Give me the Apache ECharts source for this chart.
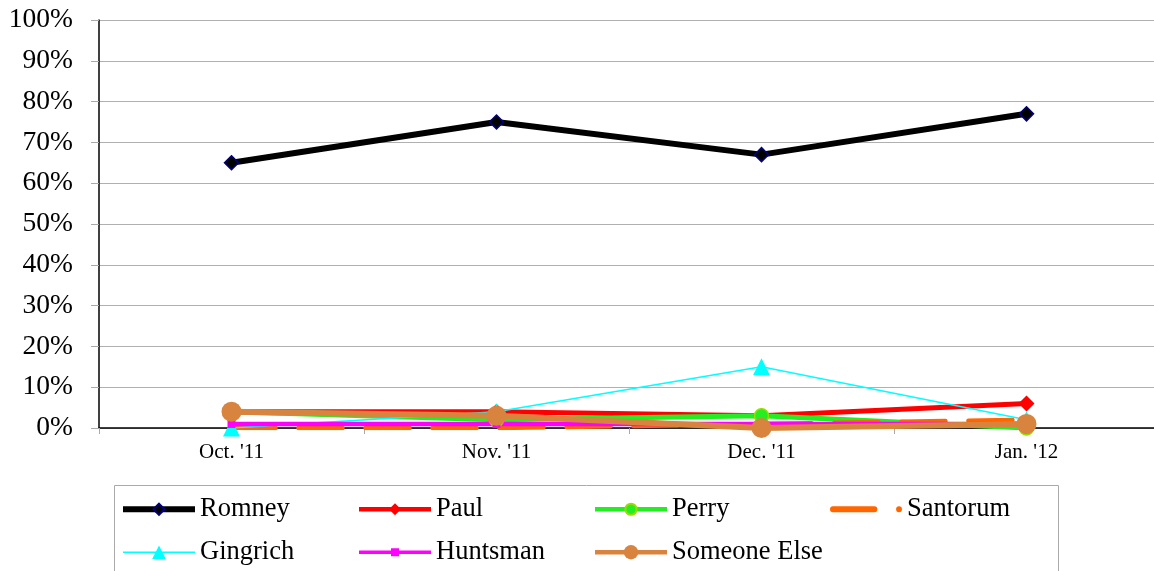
<!DOCTYPE html>
<html>
<head>
<meta charset="utf-8">
<script src="https://cdn.jsdelivr.net/npm/echarts@6/dist/echarts.min.js"></script>
<style>
  html, body { margin: 0; padding: 0; background: #fff; }
  #chart { width: 1154px; height: 571px; }
</style>
</head>
<body>
<div id="chart"></div>
<script>
// Monthly support (%) per candidate
const months = ["Oct. '11", "Nov. '11", "Dec. '11", "Jan. '12"];
const romney = [65, 75, 67, 77];
const paul = [4, 4, 3, 6];
const perry = [4, 2, 3, 0];
const santorum = [0, 0, 1, 2];
const gingrich = [0, 4, 15, 2];
const huntsman = [1, 1, 1, 1];
const someoneElse = [4, 3, 0, 1];
const yTicks = [0, 10, 20, 30, 40, 50, 60, 70, 80, 90, 100];

const FONT = "'Liberation Serif', 'Times New Roman', serif";

const series = [
  { name: 'Romney', data: romney, color: '#000000', width: 6, symbol: 'diamond', size: 14,
    legendWidth: 6, legendH: 14,
    itemStyle: { color: '#000000', borderColor: '#000080', borderWidth: 1.5 } },
  { name: 'Paul', data: paul, color: '#ff0000', width: 5, symbol: 'diamond', size: 16,
    legendWidth: 4.5, legendH: 15 },
  { name: 'Perry', data: perry, color: '#22ee22', width: 5, symbol: 'circle', size: 14,
    legendWidth: 4.5, legendH: 14,
    itemStyle: { color: '#22ee22', borderColor: '#99dd00', borderWidth: 1.5 } },
  { name: 'Santorum', data: santorum, color: '#ff6600', width: 4.5, symbol: 'none', size: 0,
    legendWidth: 0, legendH: 6, dash: [44, 23] },
  { name: 'Gingrich', data: gingrich, color: '#00ffff', width: 1.5, symbol: 'triangle', size: 17,
    legendWidth: 1.5, legendH: 17 },
  { name: 'Huntsman', data: huntsman, color: '#ff00ff', width: 4.5, symbol: 'rect', size: 8,
    legendWidth: 3.5, legendH: 10 },
  { name: 'Someone Else', data: someoneElse, color: '#d8843e', width: 6, symbol: 'circle', size: 20,
    legendWidth: 4.5, legendH: 18 }
];

const chartSeries = series.map(s => ({
  name: s.name,
  type: 'line',
  data: s.data,
  symbol: s.symbol,
  symbolSize: s.size,
  showSymbol: s.symbol !== 'none',
  color: s.color,
  lineStyle: { color: s.color, width: s.width, type: s.dash || 'solid', cap: s.dash ? 'round' : 'butt' },
  itemStyle: s.itemStyle || { color: s.color },
  emphasis: { disabled: true }
}));

// Legend placed in a 4-column grid, two rows
const legendCols = [123, 359, 595, 830];
const legendRowCenters = [509, 552];
const santorumIcon = 'path://M3,0 L45,0 A3,3 0 0 1 45,6 L3,6 A3,3 0 0 1 3,0 Z M70,0 A3,3 0 1 1 70,6 A3,3 0 1 1 70,0 Z';
const LEGEND_FONT = 26.5;
const legends = series.map((s, i) => {
  const h = Math.max(s.legendH, LEGEND_FONT * 1.0);
  const entry = { left: legendCols[i % 4] - s.legendWidth / 2,
    top: legendRowCenters[Math.floor(i / 4)] - h / 2,
    padding: 0,
    itemWidth: 72,
    itemHeight: s.legendH,
    data: [s.name === 'Santorum' ? { name: s.name, icon: santorumIcon } : { name: s.name }],
    selectedMode: false,
    textStyle: { fontFamily: FONT, fontSize: LEGEND_FONT, color: '#000' }
  };
  if (s.legendWidth > 0) entry.lineStyle = { width: s.legendWidth, type: 'solid', cap: 'butt' };
  return entry;
});

const chart = echarts.init(document.getElementById('chart'), null, { renderer: 'canvas' });
chart.setOption({
  animation: false,
  backgroundColor: '#ffffff',
  grid: { left: 99, width: 1060, top: 20, bottom: 143, containLabel: false, outerBoundsMode: 'none' },
  xAxis: {
    type: 'category',
    data: months,
    boundaryGap: true,
    axisLine: { lineStyle: { color: '#000', width: 1.5 } },
    axisTick: { show: true, length: 6, lineStyle: { color: '#aaaaaa' } },
    axisLabel: { fontFamily: FONT, fontSize: 21, color: '#000', margin: 14 },
    splitLine: { show: false }
  },
  yAxis: {
    type: 'value',
    min: yTicks[0],
    max: yTicks[yTicks.length - 1],
    interval: yTicks[1] - yTicks[0],
    axisLine: { show: true, lineStyle: { color: '#000', width: 1.5 } },
    axisTick: { show: true, length: 8, lineStyle: { color: '#aaaaaa' } },
    axisLabel: { fontFamily: FONT, fontSize: 27.5, color: '#000', margin: 26, formatter: '{value}%' },
    splitLine: { show: true, lineStyle: { color: '#b0b0b0', width: 1 } }
  },
  legend: legends,
  graphic: [{
    type: 'rect',
    shape: { x: 114.5, y: 485.5, width: 944, height: 110 },
    style: { fill: 'none', stroke: '#aaaaaa', lineWidth: 1 },
    z: -1
  }],
  series: chartSeries
});
</script>
</body>
</html>
